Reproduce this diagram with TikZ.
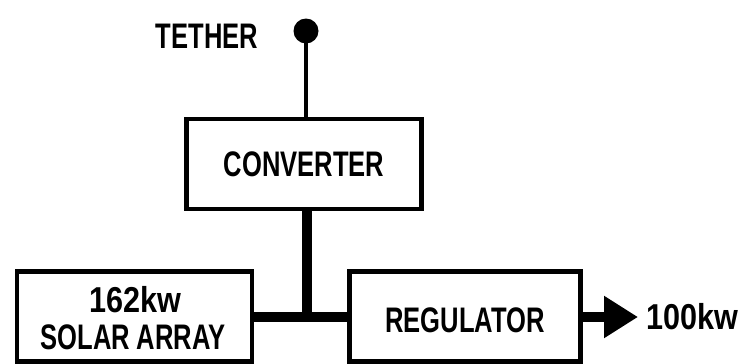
\documentclass[tikz,border=0pt]{standalone}
\usepackage{fontspec}
\setmainfont{Liberation Sans}[FakeStretch=0.72]
\newfontfamily\numfont{Liberation Sans}[FakeStretch=0.85]
\usetikzlibrary{arrows.meta}
\tikzset{
  blockbox/.style={draw, line width=4.5pt, minimum width=#1, minimum height=90pt, inner sep=0pt},
  lbl/.style={font=\bfseries\fontsize{35.5}{42}\selectfont, inner sep=0pt},
  numlbl/.style={font=\numfont\bfseries\fontsize{36}{43}\selectfont, inner sep=0pt},
  thin/.style={line width=4pt},
  bus/.style={line width=10pt},
}
\begin{document}
\begin{tikzpicture}[x=1pt,y=-1pt]
  \useasboundingbox (0,0) rectangle (740,364);
  % blocks
  \node[blockbox=235pt] (conv) at (304,164) {};
  \node[lbl] (convt) at (conv.center) {CONVERTER};
  \node[blockbox=235pt] (sol) at (134.5,316.5) {};
  \node[numlbl] (solt1) at (135,300) {162kw};
  \node[lbl] (solt2) at (133,337.5) {SOLAR ARRAY};
  \node[blockbox=231pt] (reg) at (465,316.5) {};
  \node[lbl] (regt) at (465,320) {REGULATOR};
  % tether terminal
  \node[circle, fill=black, minimum size=25pt, inner sep=0pt] (dot) at (306,31) {};
  \node[lbl] (teth) at (207,36) {TETHER};
  \draw[thin] (dot.center) -- (dot.center |- conv.north);
  % power bus
  \coordinate (j) at (307,317);
  \draw[bus] (j |- conv.south) -- (j);
  \draw[bus] (sol.east |- j) -- (reg.west |- j);
  \coordinate (out) at (638,317);
  \draw[bus, -{Triangle[length=34pt,width=40pt]}] (reg.east |- j) -- (out);
  \node[numlbl, anchor=west] (pw) at (646,317) {100kw};
\end{tikzpicture}
\end{document}
